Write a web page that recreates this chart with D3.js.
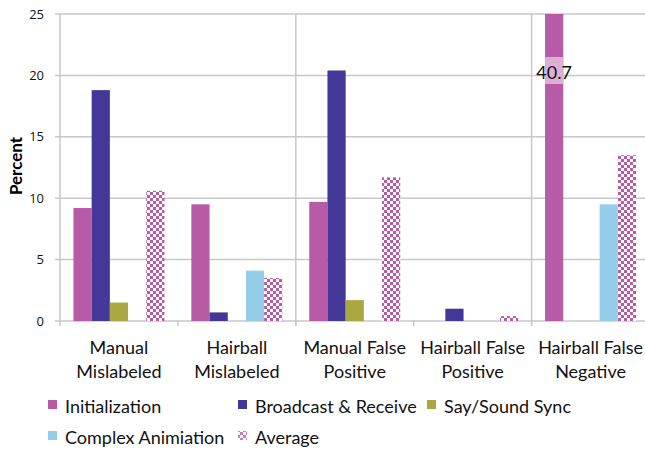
<!DOCTYPE html>
<html><head><meta charset="utf-8">
<script src="https://cdn.jsdelivr.net/npm/d3@7"></script>
<style>
html,body{margin:0;padding:0;background:#fff;}
svg{display:block;}
</style></head>
<body>
<svg id="chart" width="645" height="450"></svg>
<script>
const categories = [["Manual","Mislabeled"],["Hairball","Mislabeled"],["Manual False","Positive"],["Hairball False","Positive"],["Hairball False","Negative"]];
const seriesNames = ["Initialization","Broadcast & Receive","Say/Sound Sync","Complex Animiation","Average"];
const initialization = [9.2, 9.5, 9.7, 0, 40.7];
const broadcast = [18.8, 0.7, 20.4, 1.0, 0];
const saySync = [1.5, 0, 1.7, 0, 0];
const complexAnim = [0, 4.1, 0, 0, 9.5];
const average = [10.6, 3.5, 11.7, 0.4, 13.5];
const yTicks = [0, 5, 10, 15, 20, 25];
const colors = ["#B85BA6", "#433798", "#A9A843", "#93CDE8", "url(#checker)"];

const seriesValues = [initialization, broadcast, saySync, complexAnim, average];
const svg = d3.select("#chart");
const pLeft = 60, pTop = 14, pBottom = 321, pRight = 649.5;

const defs = svg.append("defs");
const pat = defs.append("pattern").attr("id","checker").attr("patternUnits","userSpaceOnUse")
  .attr("width",6).attr("height",6);
pat.append("rect").attr("width",6).attr("height",6).attr("fill","#fff");
pat.append("rect").attr("width",3).attr("height",3).attr("fill","#B85BA6");
pat.append("rect").attr("x",3).attr("y",3).attr("width",3).attr("height",3).attr("fill","#B85BA6");
const pat2 = defs.append("pattern").attr("id","checkerL").attr("patternUnits","userSpaceOnUse")
  .attr("width",6).attr("height",6);
pat2.append("rect").attr("width",6).attr("height",6).attr("fill","#fff");
pat2.append("rect").attr("width",3).attr("height",3).attr("fill","#C77DBB");
pat2.append("rect").attr("x",3).attr("y",3).attr("width",3).attr("height",3).attr("fill","#C77DBB");
defs.append("clipPath").attr("id","plotclip").append("rect")
  .attr("x",pLeft).attr("y",pTop).attr("width",pRight-pLeft).attr("height",pBottom-pTop);

const x0 = d3.scaleBand().domain(d3.range(categories.length)).range([pLeft,pRight]).paddingInner(0).paddingOuter(0);
const x1 = d3.scaleBand().domain(d3.range(seriesNames.length)).range([0,x0.bandwidth()]).paddingInner(0).paddingOuter(0.74);
const y = d3.scaleLinear().domain([0,25]).range([pBottom,pTop]);

const gridColor = "#C8C8C8";
svg.append("g").selectAll("line").data(yTicks).join("line")
  .attr("x1",pLeft-5).attr("x2",645).attr("y1",d=>y(d)).attr("y2",d=>y(d))
  .attr("stroke",gridColor).attr("stroke-width",1.5);
svg.append("g").selectAll("line").data([2,4]).join("line")
  .attr("x1",d=>x0(d)).attr("x2",d=>x0(d)).attr("y1",pTop).attr("y2",pBottom+5)
  .attr("stroke",gridColor).attr("stroke-width",1.5);
svg.append("line").attr("x1",pLeft).attr("x2",pLeft).attr("y1",pTop).attr("y2",pBottom)
  .attr("stroke",gridColor).attr("stroke-width",1.5);
svg.append("g").selectAll("line").data(d3.range(categories.length)).join("line")
  .attr("x1",d=>x0(d)).attr("x2",d=>x0(d)).attr("y1",pBottom).attr("y2",pBottom+5)
  .attr("stroke",gridColor).attr("stroke-width",1.5);

const bars = svg.append("g").attr("clip-path","url(#plotclip)");
seriesValues.forEach((vals,si)=>{
  bars.append("g").selectAll("rect").data(vals).join("rect")
    .attr("x",(d,ci)=>x0(ci)+x1(si)).attr("width",x1.bandwidth())
    .attr("y",d=>y(d)).attr("height",d=>pBottom-y(d))
    .attr("fill",colors[si]);
});

const lblCat = 4, lblVal = initialization[4];
svg.append("rect").attr("x",x0(lblCat)+x1(0)).attr("width",x1.bandwidth())
  .attr("y",57).attr("height",27).attr("fill","#DFAED7");
svg.append("text").attr("x",x0(lblCat)+x1(0)+x1.bandwidth()/2).attr("y",79)
  .attr("text-anchor","middle").attr("font-family","Lato, sans-serif").attr("font-size",18)
  .attr("fill","#111").text(lblVal.toFixed(1));

svg.append("g").selectAll("text").data(yTicks).join("text")
  .attr("x",44).attr("y",d=>y(d)).attr("dy","0.35em").attr("text-anchor","end")
  .attr("font-family","Open Sans, sans-serif").attr("font-size",13).attr("fill","#111")
  .text(d=>d);

svg.append("text").attr("transform","translate(22,166) rotate(-90)")
  .attr("text-anchor","middle").attr("font-family","Lato, sans-serif").attr("font-weight","bold")
  .attr("font-size",17).attr("fill","#000").text("Percent");

const catG = svg.append("g").selectAll("text").data(categories).join("text")
  .attr("x",(d,i)=>x0(i)+x0.bandwidth()/2).attr("text-anchor","middle")
  .attr("font-family","Lato, sans-serif").attr("font-size",18).attr("fill","#111");
catG.selectAll("tspan").data(d=>d).join("tspan")
  .attr("x",function(){return this.parentNode.getAttribute("x");})
  .attr("y",(d,i)=>354+i*24).text(d=>d);

const legendPos = [[48,400],[238,400],[427,400],[48,431],[238,431]];
const legendColors = ["#B85BA6", "#433798", "#A9A843", "#93CDE8", "url(#checkerL)"];
const lg = svg.append("g");
seriesNames.forEach((n,i)=>{
  const [lx,ly] = legendPos[i];
  lg.append("rect").attr("x",lx).attr("y",ly).attr("width",9).attr("height",9).attr("fill",legendColors[i]);
  lg.append("text").attr("x",lx+17).attr("y",ly+13).attr("font-family","Lato, sans-serif")
    .attr("font-size",18).attr("fill","#111").text(n);
});
</script>
</body></html>
